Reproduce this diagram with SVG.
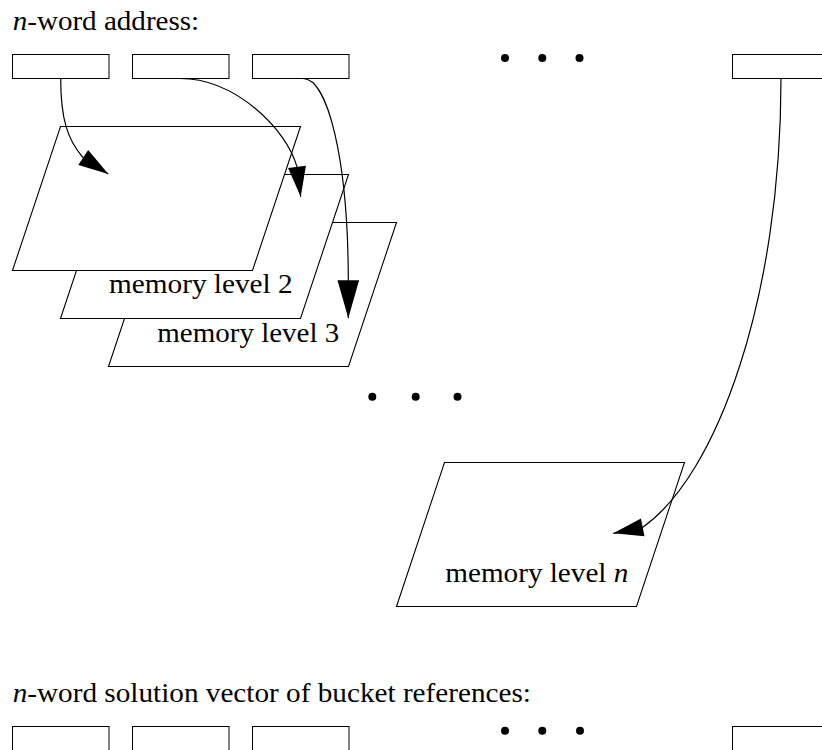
<svg xmlns="http://www.w3.org/2000/svg" width="822" height="750" viewBox="0 0 822 750">
  <style>
    .word { fill: #fff; stroke: #000; stroke-width: 1; }
    .level { fill: #fff; stroke: #000; stroke-width: 1.1; stroke-linejoin: miter; }
    .label { font-family: "Liberation Serif", "Times New Roman", serif; font-size: 27px; fill: #000; }
    .dot { fill: #000; }
    .link { fill: none; stroke: #000; stroke-width: 1.2; }
  </style>
  <defs>
    <!-- filled arrowhead; tip sits on the end of the path -->
    <marker id="head" markerUnits="userSpaceOnUse" viewBox="0 0 30 18" markerWidth="30" markerHeight="18" refX="30" refY="9" orient="auto" overflow="visible">
      <path d="M0,0 L30,9 L0,18 Z" fill="#000"/>
    </marker>
    <marker id="head-long" markerUnits="userSpaceOnUse" viewBox="0 0 38 21.6" markerWidth="38" markerHeight="21.6" refX="38" refY="10.8" orient="auto" overflow="visible">
      <path d="M0,0 L38,10.8 L0,21.6 Z" fill="#000"/>
    </marker>
    <!-- one memory level plane -->
    <path id="plane" d="M48,0 L288,0 L240,144 L0,144 Z"/>
  </defs>

  <rect width="822" height="750" fill="#fff"/>

  <!-- address words -->
  <g id="address">
    <text class="label" x="12.7" y="30" textLength="186.5" lengthAdjust="spacingAndGlyphs"><tspan font-style="italic">n</tspan>-word address:</text>
    <rect class="word" x="12.5" y="54.5" width="96.5" height="24"/>
    <rect class="word" x="132.5" y="54.5" width="96.5" height="24"/>
    <rect class="word" x="252.5" y="54.5" width="96.5" height="24"/>
    <circle class="dot" cx="505" cy="58" r="4"/>
    <circle class="dot" cx="542.3" cy="58" r="4"/>
    <circle class="dot" cx="579.5" cy="58" r="4"/>
    <rect class="word" x="732.5" y="54.5" width="96.5" height="24"/>
  </g>

  <!-- memory levels, back to front -->
  <g id="level-3">
    <use href="#plane" class="level" x="108.5" y="222.5"/>
    <text class="label" x="157.3" y="341.7" textLength="182" lengthAdjust="spacingAndGlyphs">memory level 3</text>
  </g>
  <g id="level-2">
    <use href="#plane" class="level" x="60.5" y="174.5"/>
    <text class="label" x="109" y="293.2" textLength="183.7" lengthAdjust="spacingAndGlyphs">memory level 2</text>
  </g>
  <g id="level-1">
    <use href="#plane" class="level" x="12.5" y="126.5"/>
  </g>

  <g id="more-levels">
    <circle class="dot" cx="372.3" cy="396.7" r="4"/>
    <circle class="dot" cx="415.7" cy="396.7" r="4"/>
    <circle class="dot" cx="457.5" cy="396.7" r="4"/>
  </g>

  <g id="level-n">
    <use href="#plane" class="level" x="396.5" y="462.5"/>
    <text class="label" x="445.3" y="582.3" textLength="183" lengthAdjust="spacingAndGlyphs">memory level <tspan font-style="italic">n</tspan></text>
  </g>

  <!-- solution vector -->
  <g id="solution">
    <text class="label" x="12.7" y="701.7" textLength="518.3" lengthAdjust="spacingAndGlyphs"><tspan font-style="italic">n</tspan>-word solution vector of bucket references:</text>
    <rect class="word" x="12.5" y="726.5" width="96.5" height="24"/>
    <rect class="word" x="132.5" y="726.5" width="96.5" height="24"/>
    <rect class="word" x="252.5" y="726.5" width="96.5" height="24"/>
    <circle class="dot" cx="505" cy="730.7" r="4"/>
    <circle class="dot" cx="542.3" cy="730.7" r="4"/>
    <circle class="dot" cx="580" cy="730.7" r="4"/>
    <rect class="word" x="732.5" y="726.5" width="96.5" height="24"/>
  </g>

  <!-- word-to-level lookups -->
  <g id="connectors">
    <path class="link" marker-end="url(#head)" d="M60.7,78.5 C60.7,120 68,140 82.5,157 L108.3,174"/>
    <path class="link" marker-end="url(#head)" d="M180,78.5 C235,78.5 286.2,128.4 297,166.8 L300.7,196.7"/>
    <path class="link" marker-end="url(#head-long)" d="M303,78.5 C328,78.5 348,160 348.3,279 L348.3,318.3"/>
    <path class="link" marker-end="url(#head)" d="M781,78.7 C781,300 716.3,476.1 642.5,527.4 L613.3,533.3"/>
  </g>
</svg>
